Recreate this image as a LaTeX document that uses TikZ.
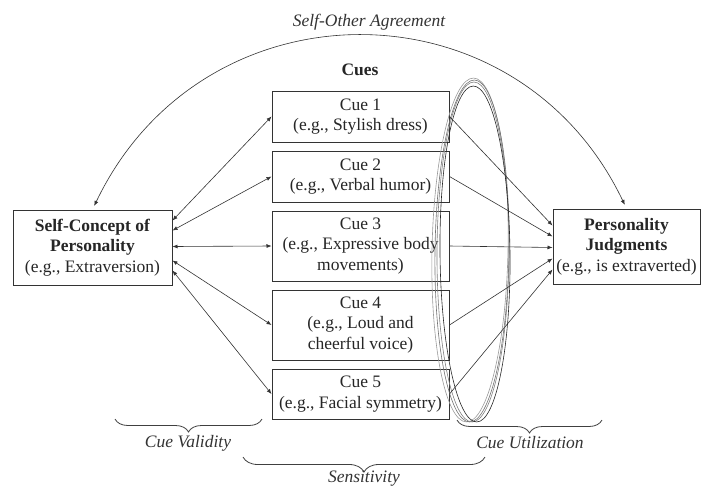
\documentclass[tikz,border=0pt]{standalone}
\usepackage{fontspec}
\setmainfont{Liberation Serif}
\usetikzlibrary{arrows.meta, positioning, calc, decorations.pathreplacing}

\begin{document}
\begin{tikzpicture}[
    x=1pt, y=-1pt,
    font=\fontsize{17.5}{20.5}\selectfont,
    box/.style={draw=black!80, line width=1pt, align=center, text=black!85, inner sep=0pt},
    cuebox/.style={box, minimum width=177pt},
    conceptbox/.style={box, minimum height=75pt},
    arrow/.style={-{Latex[length=5pt,width=4pt]}, black!80, line width=0.6pt},
    twoway/.style={{Latex[length=5pt,width=4pt]}-{Latex[length=5pt,width=4pt]}, black!80, line width=0.6pt},
    ring/.style={line width=0.6pt},
    bracket/.style={decorate, decoration={brace, mirror, amplitude=13pt}, black!75, line width=0.8pt},
    tag/.style={font=\fontsize{17.5}{20.5}\selectfont\itshape, text=black!80}
]
    \useasboundingbox (0,0) rectangle (702,488);

    % Self-concept on the left, judgments on the right, the five cues between.
    \node[conceptbox, minimum width=159pt] (self) at (92.5, 247.5) {\textbf{Self-Concept of}\\\textbf{Personality}\\(e.g., Extraversion)};
    \node[conceptbox, minimum width=147pt] (judg) at (626.5, 246.5) {\textbf{Personality}\\\textbf{Judgments}\\(e.g., is extraverted)};

    \node[font=\fontsize{17.5}{20.5}\selectfont\bfseries, text=black!85] (cueshead) at (360, 70) {Cues};
    \node[cuebox, minimum height=51pt] (cue1) at (360.5, 116.5) {Cue 1\\(e.g., Stylish dress)};
    \node[cuebox, minimum height=51pt] (cue2) at (360.5, 176.5) {Cue 2\\(e.g., Verbal humor)};
    \node[cuebox, minimum height=70pt] (cue3) at (360.5, 246) {Cue 3\\(e.g., Expressive body\\movements)};
    \node[cuebox, minimum height=70pt] (cue4) at (360.5, 325) {Cue 4\\(e.g., Loud and\\cheerful voice)};
    \node[cuebox, minimum height=50pt] (cue5) at (360.5, 394) {Cue 5\\(e.g., Facial symmetry)};

    % The loops round the cue side.
    \draw[ring, black!40, rotate around={-1.2:(470,250)}] (470,250) ellipse [x radius=38pt, y radius=172pt];
    \draw[ring, black!55, rotate around={-0.8:(472,251)}] (472,251) ellipse [x radius=37pt, y radius=171pt];
    \draw[ring, black!50, rotate around={-0.3:(473,252)}] (473,252) ellipse [x radius=36pt, y radius=170pt];
    \draw[ring, black!85, rotate around={0.6:(475,254)}] (475,254) ellipse [x radius=35pt, y radius=168pt];

    % Cue validity: two-way links to the self-concept.
    \draw[twoway] ($(self.east)+(0,-27)$) -- (cue1.west);
    \draw[twoway] ($(self.east)+(0,-17)$) -- (cue2.west);
    \draw[twoway] ($(self.east)+(0,-1)$) -- (cue3.west);
    \draw[twoway] ($(self.east)+(0,13)$) -- (cue4.west);
    \draw[twoway] ($(self.east)+(0,23)$) -- (cue5.west);

    % Cue utilization: one-way links to the judgments.
    \draw[arrow] (cue1.east) -- ($(judg.west)+(0,-21)$);
    \draw[arrow] (cue2.east) -- ($(judg.west)+(0,-10)$);
    \draw[arrow] (cue3.east) -- ($(judg.west)+(0,1)$);
    \draw[arrow] (cue4.east) -- ($(judg.west)+(0,12)$);
    \draw[arrow] (cue5.east) -- ($(judg.west)+(0,23)$);

    % Self-other agreement arc over the top.
    \draw[twoway, shorten <=4pt, shorten >=4pt] (self.north) .. controls +(110,-230) and +(-110,-230) .. (judg.north);
    \node[tag] (agree) at (369, 22) {Self-Other Agreement};

    % Braces under the diagram.
    \draw[bracket] (115,419) -- (262,419);
    \node[tag] (validity) at (188, 443) {Cue Validity};
    \draw[bracket] (457,420) -- (602,420);
    \node[tag] (utilization) at (530, 443) {Cue Utilization};
    \draw[bracket, decoration={amplitude=15pt}] (243,457) -- (485,457);
    \node[tag] (sensitivity) at (364, 479) {Sensitivity};

\end{tikzpicture}
\end{document}
